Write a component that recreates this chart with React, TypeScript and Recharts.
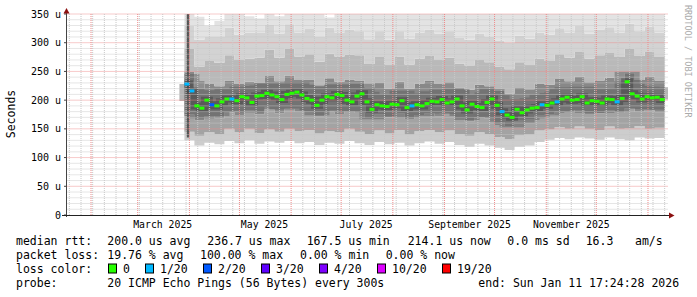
import React from "react";
import {
    ComposedChart,
    Area,
    Line,
    Scatter,
    XAxis,
    YAxis,
    ReferenceLine,
    ReferenceArea,
} from "recharts";

// day numbers count from 2025-01-01 (= 0)
const FIRST_DAY = 87;
const MEDIAN_STEP = 3; // one median mark per 3 days
const SMOKE_PER_MEDIAN = 2; // smoke columns are 6 days wide

// median rtt in microseconds, one value per 3-day bin
const MEDIAN_US = [
    228, 216, 190, 186, 200, 192, 190, 197, 202, 202,
    199, 206, 204, 196, 207, 208, 212, 209, 206, 201,
    210, 212, 214, 209, 203, 200, 191, 200, 206, 204,
    210, 208, 200, 197, 207, 211, 197, 184, 192, 190,
    189, 193, 192, 199, 187, 190, 192, 190, 194, 198,
    197, 201, 195, 197, 202, 190, 183, 193, 189, 187,
    196, 202, 191, 180, 174, 170, 184, 178, 183, 186,
    187, 192, 191, 195, 197, 202, 205, 200, 201, 206,
    195, 199, 198, 195, 202, 201, 197, 203, 232, 211,
    207, 202, 206, 204, 205, 201,
];

// loss level per median bin (index into LOSS_COLORS)
const LOSS_LEVEL = [
    1, 1, 0, 0, 0, 2, 0, 0, 0, 1,
    0, 0, 0, 0, 0, 0, 0, 0, 0, 0,
    0, 0, 0, 0, 0, 0, 0, 0, 0, 0,
    0, 0, 0, 0, 0, 0, 0, 0, 0, 0,
    0, 0, 0, 0, 0, 1, 0, 0, 0, 0,
    0, 0, 0, 0, 0, 0, 0, 0, 0, 0,
    0, 0, 0, 1, 0, 0, 0, 0, 0, 0,
    0, 1, 0, 0, 1, 0, 0, 0, 0, 0,
    0, 0, 0, 0, 0, 0, 1, 0, 0, 0,
    0, 0, 0, 0, 0, 0,
];

// smoke: ping distribution per 6-day column (us)
const SMOKE_MIN = [
    130, 121, 126, 123, 129, 125, 130, 124, 128, 126, 129, 125,
    127, 122, 126, 124, 129, 125, 122, 127, 123, 126, 121, 125,
    128, 124, 127, 122, 119, 124, 121, 117, 113, 119, 121, 127,
    131, 134, 132, 135, 133, 131, 135, 132, 130, 135, 133, 134,
];
const SMOKE_LO = [
    145, 138, 144, 141, 150, 144, 150, 143, 149, 145, 150, 146,
    148, 142, 146, 144, 150, 145, 141, 147, 142, 148, 140, 146,
    148, 144, 147, 141, 138, 144, 141, 136, 132, 139, 140, 147,
    149, 153, 150, 154, 150, 148, 154, 150, 151, 155, 150, 152,
];
const SMOKE_CORE_LO = [
    175, 165, 172, 168, 179, 174, 182, 175, 184, 177, 185, 180,
    180, 172, 180, 176, 181, 178, 169, 175, 170, 177, 167, 174,
    177, 172, 176, 169, 163, 170, 168, 162, 155, 164, 166, 174,
    175, 180, 178, 183, 176, 177, 182, 178, 186, 180, 183, 179,
];
const SMOKE_CORE_HI = [
    250, 220, 228, 224, 234, 228, 232, 230, 242, 233, 243, 235,
    236, 226, 238, 232, 236, 234, 222, 230, 220, 232, 220, 229,
    234, 228, 231, 222, 218, 227, 224, 217, 211, 221, 219, 229,
    227, 237, 233, 241, 231, 234, 239, 233, 247, 235, 241, 234,
];
const SMOKE_HI = [
    290, 258, 268, 265, 278, 270, 272, 274, 288, 274, 290, 276,
    280, 267, 281, 276, 279, 278, 263, 275, 261, 276, 262, 272,
    277, 270, 274, 264, 260, 270, 266, 258, 254, 266, 261, 272,
    268, 280, 274, 284, 272, 278, 282, 275, 290, 277, 284, 275,
];
const SMOKE_UPPER = [
    330, 305, 310, 310, 326, 314, 318, 317, 331, 316, 332, 318,
    324, 310, 326, 318, 323, 320, 306, 320, 305, 320, 307, 318,
    323, 316, 320, 309, 305, 316, 311, 304, 300, 312, 307, 318,
    314, 325, 318, 329, 316, 323, 327, 318, 333, 320, 328, 318,
];
const SMOKE_MAX = [
    350, 345, 330, 338, 350, 350, 346, 342, 350, 346, 350, 350,
    350, 350, 344, 350, 350, 350, 350, 350, 350, 350, 350, 350,
    350, 350, 350, 350, 350, 350, 350, 350, 350, 350, 350, 350,
    350, 350, 350, 350, 350, 350, 350, 350, 350, 350, 350, 350,
];

// first sample: very wide spread
const FIRST_SAMPLE_DAYS = [88.4, 89.9];
const FIRST_SAMPLE_RANGE = [135, 350];

const X_DOMAIN = [16.6, 377];
const X_TICKS = [74, 135, 196, 258, 319];
const X_TICK_LABELS = ["March 2025", "May 2025", "July 2025", "September 2025", "November 2025"];
const MONTH_STARTS = [31, 59, 90, 120, 151, 181, 212, 243, 273, 304, 334, 365];
const FIRST_SUNDAY = 18;
const Y_TICKS = [0, 50, 100, 150, 200, 250, 300, 350];

const LOSS_COLORS = ["#26ff00", "#00b8ff", "#0059ff", "#5e00ff", "#7e00ff", "#dd00ff", "#ff0000"];
const LOSS_LABELS = ["0", "1/20", "2/20", "3/20", "4/20", "10/20", "19/20"];

const MONO = "'DejaVu Sans Mono', monospace";
const MINOR_GRID = "#c8c8c8";
const MAJOR_GRID = "#ee8a8a";

const rows: any[] = MEDIAN_US.map((m, j) => {
    const k = Math.floor(j / SMOKE_PER_MEDIAN);
    return {
        day: FIRST_DAY + j * MEDIAN_STEP,
        median: m,
        loss: LOSS_LEVEL[j],
        min: SMOKE_MIN[k],
        lo: SMOKE_LO[k],
        coreLo: SMOKE_CORE_LO[k],
        coreHi: SMOKE_CORE_HI[k],
        hi: SMOKE_HI[k],
        upper: SMOKE_UPPER[k],
        max: SMOKE_MAX[k],
    };
});
// closing row so the last step is drawn to its end
rows.push({ ...rows[rows.length - 1], day: rows[rows.length - 1].day + MEDIAN_STEP, end: true });

const BANDS: [string, string, string][] = [
    ["min", "lo", "#cdcdcd"],
    ["lo", "coreLo", "#a3a3a3"],
    ["coreLo", "coreHi", "#888888"],
    ["coreHi", "hi", "#b9b9b9"],
    ["hi", "upper", "#d3d3d3"],
    ["upper", "max", "#e3e3e3"],
];

const sundays: number[] = [];
for (let d = FIRST_SUNDAY; d <= X_DOMAIN[1]; d += 7) {
    if (!MONTH_STARTS.includes(d)) sundays.push(d);
}
const minorY: number[] = [];
for (let v = 10; v < 350; v += 10) if (v % 50 !== 0) minorY.push(v);
const majorY = Y_TICKS.slice(1);

const MedianMark = (p: any) => {
    if (!p.payload || p.payload.end) return <g />;
    return (
        <rect
            x={p.cx}
            y={p.cy - 1.5}
            width={5}
            height={3}
            fill={LOSS_COLORS[p.payload.loss]}
        />
    );
};

const LEGEND_ROWS: [number, [number, string][]][] = [
    [245, [[16, "median rtt:"], [107.3, "200.0 us avg"], [207.3, "236.7 us max"], [306.7, "167.5 us min"], [407.7, "214.1 us now"], [507.3, "0.0 ms sd"], [585.7, "16.3"], [635, "am/s"]]],
    [259, [[16, "packet loss:"], [107.3, "19.76 % avg"], [200, "100.00 % max"], [300, "0.00 % min"], [385.7, "0.00 % now"]]],
    [272.5, [[16, "loss color:"]]],
    [286.5, [[16, "probe:"], [107.3, "20 ICMP Echo Pings (56 Bytes) every 300s"], [478.3, "end: Sun Jan 11 17:24:28 2026"]]],
];
const SWATCH_X = [108.5, 145.5, 203.5, 261.5, 319.5, 377.5, 442.5];

export default function App() {
    return (
        <div
            style={{
                position: "absolute",
                left: 0,
                top: 0,
                width: 697,
                height: 297,
                background: "#fff",
                overflow: "hidden",
            }}
        >
            <ComposedChart
                width={697}
                height={297}
                data={rows}
                margin={{ top: 14, right: 29, left: 10, bottom: 62 }}
            >
                <XAxis
                    dataKey="day"
                    type="number"
                    domain={X_DOMAIN}
                    allowDataOverflow
                    ticks={X_TICKS}
                    interval={0}
                    tickFormatter={(v: number) => X_TICK_LABELS[X_TICKS.indexOf(v)]}
                    axisLine={false}
                    tickLine={false}
                    tickSize={0}
                    tickMargin={6}
                    height={20}
                    tick={{ fontSize: 9.8, fontFamily: MONO, fill: "#000" }}
                />
                <YAxis
                    type="number"
                    domain={[0, 350]}
                    allowDataOverflow
                    ticks={Y_TICKS}
                    interval={0}
                    tickFormatter={(v: number) => (v === 0 ? "0" : `${v} u`)}
                    axisLine={false}
                    tickLine={{ stroke: "#444" }}
                    tickSize={3}
                    tickMargin={3}
                    width={57}
                    tick={{ fontSize: 10, fontFamily: MONO, fill: "#000" }}
                />
                {BANDS.map(([a, b, color]) => (
                    <Area
                        key={a}
                        name={a}
                        type="stepAfter"
                        dataKey={(d: any) => [d[a], d[b]]}
                        fill={color}
                        fillOpacity={1}
                        stroke="none"
                        dot={false}
                        activeDot={false}
                        isAnimationActive={false}
                    />
                ))}
                <ReferenceArea
                    x1={FIRST_SAMPLE_DAYS[0]}
                    x2={FIRST_SAMPLE_DAYS[1]}
                    y1={FIRST_SAMPLE_RANGE[0]}
                    y2={FIRST_SAMPLE_RANGE[1]}
                    fill="#555"
                    fillOpacity={1}
                    stroke="none"
                />
                <Line
                    type="stepAfter"
                    dataKey="median"
                    stroke="#5a5a5a"
                    strokeOpacity={0.45}
                    strokeWidth={20}
                    dot={false}
                    activeDot={false}
                    isAnimationActive={false}
                />
                <Line
                    type="stepAfter"
                    dataKey="median"
                    stroke="#3a3a3a"
                    strokeOpacity={0.45}
                    strokeWidth={7}
                    dot={false}
                    activeDot={false}
                    isAnimationActive={false}
                />
                {/* dotted horizontals vanish in this renderer, so they are drawn faint and solid */}
                {minorY.map((v) => (
                    <ReferenceLine key={`my${v}`} y={v} stroke={MINOR_GRID} strokeOpacity={0.45} />
                ))}
                {majorY.map((v) => (
                    <ReferenceLine key={`My${v}`} y={v} stroke={MAJOR_GRID} strokeOpacity={0.45} />
                ))}
                {sundays.map((d) => (
                    <ReferenceLine key={`mx${d}`} x={d} stroke={MINOR_GRID} strokeDasharray="1 1" />
                ))}
                {MONTH_STARTS.map((d) => (
                    <ReferenceLine key={`Mx${d}`} x={d} stroke={MAJOR_GRID} strokeDasharray="1 1" />
                ))}
                <Scatter
                    dataKey="median"
                    shape={MedianMark}
                    isAnimationActive={false}
                />
            </ComposedChart>

            <svg
                width={697}
                height={297}
                style={{ position: "absolute", left: 0, top: 0, pointerEvents: "none" }}
            >
                {/* axes with arrows */}
                <line x1={66.5} y1={10} x2={66.5} y2={217} stroke="#444" />
                <line x1={62} y1={215.5} x2={670} y2={215.5} stroke="#222" />
                <polygon points="63.5,13.5 66.5,8 69.5,13.5" fill="#8b1010" />
                <polygon points="669,212.5 674.5,215.5 669,218.5" fill="#8b1010" />

                <text
                    x={15}
                    y={114}
                    transform="rotate(-90 15 114)"
                    textAnchor="middle"
                    fontFamily={MONO}
                    fontSize={11.5}
                    fill="#000"
                >
                    Seconds
                </text>
                <text
                    x={685}
                    y={5}
                    transform="rotate(90 685 5)"
                    fontFamily={MONO}
                    fontSize={8.5}
                    fill="#aaa"
                >
                    RRDTOOL / TOBI OETIKER
                </text>

                {LEGEND_ROWS.map(([y, parts]) =>
                    parts.map(([x, s]) => (
                        <text key={`${y}-${x}`} x={x} y={y} fontFamily={MONO} fontSize={11.5} fill="#000" style={{ whiteSpace: "pre" }}>
                            {s}
                        </text>
                    ))
                )}
                {LOSS_COLORS.map((c, i) => (
                    <g key={c}>
                        <rect x={SWATCH_X[i]} y={264} width={8} height={9} fill={c} stroke="#000" />
                        <text x={SWATCH_X[i] + 14.5} y={272.5} fontFamily={MONO} fontSize={11.5} fill="#000">
                            {LOSS_LABELS[i]}
                        </text>
                    </g>
                ))}
            </svg>
        </div>
    );
}
